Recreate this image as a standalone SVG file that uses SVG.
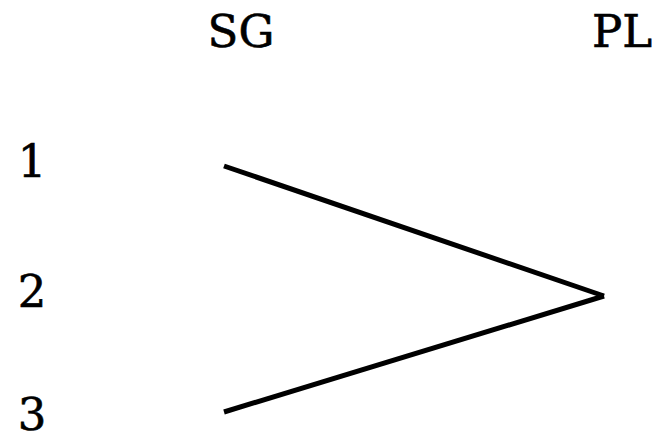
<svg xmlns="http://www.w3.org/2000/svg" width="656" height="436" viewBox="0 0 656 436">
<style>
text{font-family:"DejaVu Serif","Liberation Serif",serif;font-size:45px;fill:#000;stroke:#000;stroke-width:0.6}
.c line{stroke:#000;stroke-width:5;stroke-linecap:butt}
</style>
<rect width="656" height="436" fill="#fff"/>
<g id="SG"><text x="241" y="47" text-anchor="middle">SG</text></g>
<g id="PL"><text x="622" y="47" text-anchor="middle">PL</text></g>
<g id="n1"><text x="32" y="177" text-anchor="middle">1</text></g>
<g id="n2"><text x="32" y="307" text-anchor="middle">2</text></g>
<g id="n3"><text x="32" y="430" text-anchor="middle">3</text></g>
<g class="c" id="connectors">
<line x1="224" y1="166" x2="604" y2="296"/>
<line x1="224" y1="412" x2="604" y2="296"/>
</g>
</svg>
